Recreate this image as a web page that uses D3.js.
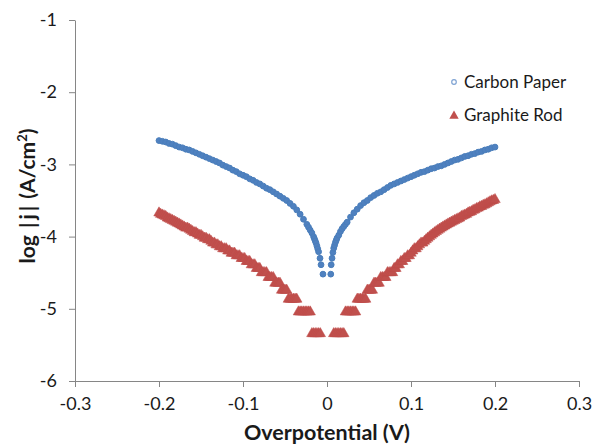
<!DOCTYPE html>
<html><head><meta charset="utf-8">
<script src="https://cdn.jsdelivr.net/npm/d3@7"></script>
<style>body{margin:0;background:#fff;} svg{display:block;}</style>
</head><body>
<svg id="chart" width="595" height="446"></svg>
<script>
// ---- data ----
const xTicks = [-0.3, -0.2, -0.1, 0, 0.1, 0.2, 0.3];
const yTicks = [-6, -5, -4, -3, -2, -1];
const seriesNames = ["Carbon Paper", "Graphite Rod"];

// Carbon Paper: overpotential (V) and log|j|
const carbonV = [-0.200,-0.196,-0.192,-0.188,-0.184,-0.180,-0.176,-0.172,-0.168,-0.164,-0.160,-0.156,-0.152,-0.148,-0.144,-0.140,-0.136,-0.132,-0.128,-0.124,-0.120,-0.116,-0.112,-0.108,-0.104,-0.100,-0.096,-0.092,-0.088,-0.084,-0.080,-0.076,-0.072,-0.068,-0.064,-0.060,-0.056,-0.052,-0.048,-0.044,-0.040,-0.036,-0.032,-0.028,-0.024,-0.022,-0.020,-0.018,-0.016,-0.015,-0.014,-0.013,-0.012,-0.011,-0.010,-0.0083,-0.0071,-0.0048,
  0.0045,0.005,0.006,0.007,0.008,0.009,0.010,0.011,0.012,0.014,0.016,0.018,0.020,0.022,0.024,0.028,0.032,0.036,0.040,0.044,0.048,0.052,0.056,0.060,0.064,0.068,0.072,0.076,0.080,0.084,0.088,0.092,0.096,0.100,0.104,0.108,0.112,0.116,0.120,0.124,0.128,0.132,0.136,0.140,0.144,0.148,0.152,0.156,0.160,0.164,0.168,0.172,0.176,0.180,0.184,0.188,0.192,0.196,0.200];
const carbonLogJ = [-2.67,-2.68,-2.69,-2.71,-2.72,-2.74,-2.76,-2.77,-2.79,-2.80,-2.82,-2.84,-2.86,-2.88,-2.90,-2.92,-2.94,-2.96,-2.98,-3.01,-3.03,-3.05,-3.08,-3.10,-3.13,-3.15,-3.17,-3.20,-3.22,-3.25,-3.27,-3.30,-3.33,-3.35,-3.38,-3.41,-3.44,-3.47,-3.50,-3.54,-3.58,-3.63,-3.69,-3.76,-3.83,-3.87,-3.91,-3.95,-4.00,-4.03,-4.06,-4.09,-4.13,-4.17,-4.21,-4.30,-4.39,-4.52,
  -4.52,-4.39,-4.30,-4.22,-4.16,-4.12,-4.08,-4.05,-4.02,-3.98,-3.93,-3.89,-3.86,-3.83,-3.80,-3.73,-3.67,-3.62,-3.57,-3.53,-3.50,-3.46,-3.43,-3.40,-3.38,-3.35,-3.32,-3.29,-3.27,-3.25,-3.23,-3.21,-3.19,-3.17,-3.15,-3.13,-3.11,-3.10,-3.08,-3.06,-3.05,-3.03,-3.02,-3.00,-2.98,-2.96,-2.94,-2.93,-2.91,-2.89,-2.88,-2.86,-2.85,-2.83,-2.82,-2.80,-2.79,-2.77,-2.76];

// Graphite Rod: overpotential (mV) and log|j|
const graphiteMv = [-200,-198,-196,-194,-192,-190,-188,-186,-184,-182,-180,-178,-176,-174,-172,-170,-168,-166,-164,-162,-160,-158,-156,-154,-152,-150,-148,-146,-144,-142,-140,-138,-136,-134,-132,-130,-128,-126,-124,-122,-120,-118,-116,-114,-112,-110,-108,-106,-104,-102,-100,
  -98,-96,-94,-92,-90,-88,-86,-84,-82,-80,-78,-76,-74,-72,-70,-68,-66,-64,-62,-60,-58,-56,-54,-52,-50,-48,-46,-44,-42,-40,-38,-36,-34,-32,-30,-28,-26,-24,-22,-20,-18,-16,-14,-12,-10,-8,
  8,10,12,14,16,18,20,22,24,26,28,30,32,34,36,38,40,42,44,46,48,50,52,54,56,58,60,62,64,66,68,70,72,74,76,78,80,82,84,86,88,90,92,94,96,98,
  100,102,104,106,108,110,112,114,116,118,120,122,124,126,128,130,132,134,136,138,140,142,144,146,148,150,152,154,156,158,160,162,164,166,168,170,172,174,176,178,180,182,184,186,188,190,192,194,196,198,200];
const graphiteLogJ = [-3.658,-3.677,-3.687,-3.697,-3.707,-3.728,-3.739,-3.750,-3.762,-3.774,
  -3.786,-3.799,-3.811,-3.825,-3.839,-3.853,-3.868,-3.868,-3.883,-3.899,
  -3.915,-3.932,-3.932,-3.950,-3.968,-3.968,-3.988,-4.008,-4.008,-4.029,
  -4.029,-4.051,-4.075,-4.075,-4.100,-4.100,-4.126,-4.126,-4.154,-4.154,
  -4.154,-4.184,-4.184,-4.216,-4.216,-4.216,-4.251,-4.251,-4.251,-4.289,
  -4.289,
  -4.289,-4.330,-4.330,-4.330,-4.376,-4.376,-4.376,-4.427,-4.427,-4.427,
  -4.485,-4.485,-4.485,-4.485,-4.552,-4.552,-4.552,-4.552,-4.631,-4.631,-4.631,-4.631,
  -4.728,-4.728,-4.728,-4.728,-4.853,-4.853,-4.853,-4.853,-4.853,-4.853,
  -5.029,-5.029,-5.029,-5.029,-5.029,-5.029,-5.029,-5.029,
  -5.330,-5.330,-5.330,-5.330,-5.330,-5.330,
  -5.330,-5.330,-5.330,-5.330,-5.330,-5.330,-5.330,
  -5.029,-5.029,-5.029,-5.029,-5.029,-5.029,-5.029,
  -4.853,-4.853,-4.853,-4.853,-4.853,-4.853,
  -4.728,-4.728,-4.728,-4.728,-4.631,-4.631,-4.631,-4.631,-4.552,-4.552,-4.552,-4.552,-4.485,-4.485,-4.485,-4.485,
  -4.427,-4.427,-4.376,-4.376,-4.330,-4.330,-4.289,-4.289,-4.251,-4.251,
  -4.216,-4.184,-4.154,-4.154,-4.126,-4.100,-4.075,-4.075,-4.051,-4.029,-4.008,-3.988,-3.968,-3.950,-3.932,-3.915,-3.899,-3.883,-3.868,-3.853,
  -3.839,-3.825,-3.811,-3.799,-3.786,-3.774,-3.762,-3.750,-3.739,-3.728,-3.707,-3.697,-3.687,-3.677,-3.658,-3.649,-3.640,-3.622,-3.614,-3.598,
  -3.590,-3.574,-3.567,-3.552,-3.545,-3.531,-3.517,-3.504,-3.491,-3.485,-3.473];

// ---- layout ----
const svg = d3.select("#chart");
const font = "Lato, 'Open Sans', sans-serif";
const axisColor = "#868686";
const textColor = "#1a1a1a";
const x = d3.scaleLinear().domain([-0.3, 0.3]).range([75, 579]);
const y = d3.scaleLinear().domain([-6, -1]).range([381, 20]);
const fmt = v => (Math.abs(v) < 1e-9 ? "0" : String(+v.toFixed(1)));

// x axis
const gx = svg.append("g").attr("transform", `translate(0,${y(-6)})`)
  .call(d3.axisBottom(x).tickValues(xTicks).tickFormat(fmt).tickSize(6).tickSizeOuter(0).tickPadding(10));
// y axis
const gy = svg.append("g").attr("transform", `translate(${x(-0.3)},0)`)
  .call(d3.axisLeft(y).tickValues(yTicks).tickFormat(d => String(d)).tickSize(6).tickSizeOuter(0).tickPadding(12));
[gx, gy].forEach(g => {
  g.select(".domain").attr("stroke", axisColor).attr("stroke-width", 1);
  g.selectAll(".tick line").attr("stroke", axisColor).attr("stroke-width", 1);
  g.selectAll(".tick text").attr("fill", textColor).style("font-family", font).style("font-size", "18px");
});

// series
const carbon = carbonV.map((v, i) => ({v, j: carbonLogJ[i]}));
const graphite = graphiteMv.map((mv, i) => ({v: mv / 1000, j: graphiteLogJ[i]}));
const tri = d3.symbol().type(d3.symbolTriangle).size(48);

svg.append("g").selectAll("path").data(graphite).join("path")
  .attr("d", tri)
  .attr("transform", d => `translate(${x(d.v)},${y(d.j) + 1})`)
  .attr("fill", "#C0504D").attr("stroke", "#BE4B48").attr("stroke-width", 0.5);

svg.append("g").selectAll("circle").data(carbon).join("circle")
  .attr("cx", d => x(d.v)).attr("cy", d => y(d.j)).attr("r", 2.9)
  .attr("fill", "#4f81c0").attr("stroke", "#4A7EBB").attr("stroke-width", 1);

// legend
const lg = svg.append("g");
lg.append("circle").attr("cx", 454).attr("cy", 82).attr("r", 2.3)
  .attr("fill", "#ffffff").attr("stroke", "#7fa3d3").attr("stroke-width", 1.2);
lg.append("path").attr("d", d3.symbol().type(d3.symbolTriangle).size(38))
  .attr("transform", "translate(454,116)").attr("fill", "#C0504D");
lg.append("text").attr("x", 464).attr("y", 88).text(seriesNames[0])
  .attr("fill", textColor).style("font-family", font).style("font-size", "17px");
lg.append("text").attr("x", 464).attr("y", 121).text(seriesNames[1])
  .attr("fill", textColor).style("font-family", font).style("font-size", "17px");

// axis titles
svg.append("text").attr("x", 327).attr("y", 440).attr("text-anchor", "middle")
  .attr("fill", textColor).style("font-family", font).style("font-size", "21.5px").style("font-weight", "bold")
  .text("Overpotential (V)");
const yt = svg.append("text").attr("transform", "translate(35,196) rotate(-90)").attr("text-anchor", "middle")
  .attr("fill", textColor).style("font-family", font).style("font-size", "21px").style("font-weight", "bold");
yt.append("tspan").text("log ");
yt.append("tspan").text("|").attr("dx", 2);
yt.append("tspan").text("j").attr("dx", 3);
yt.append("tspan").text("|").attr("dx", 3);
yt.append("tspan").text(" (A/cm").attr("dx", 2);
yt.append("tspan").text("2").attr("dy", -8).style("font-size", "13px");
yt.append("tspan").text(")").attr("dy", 8);
</script>
</body></html>
